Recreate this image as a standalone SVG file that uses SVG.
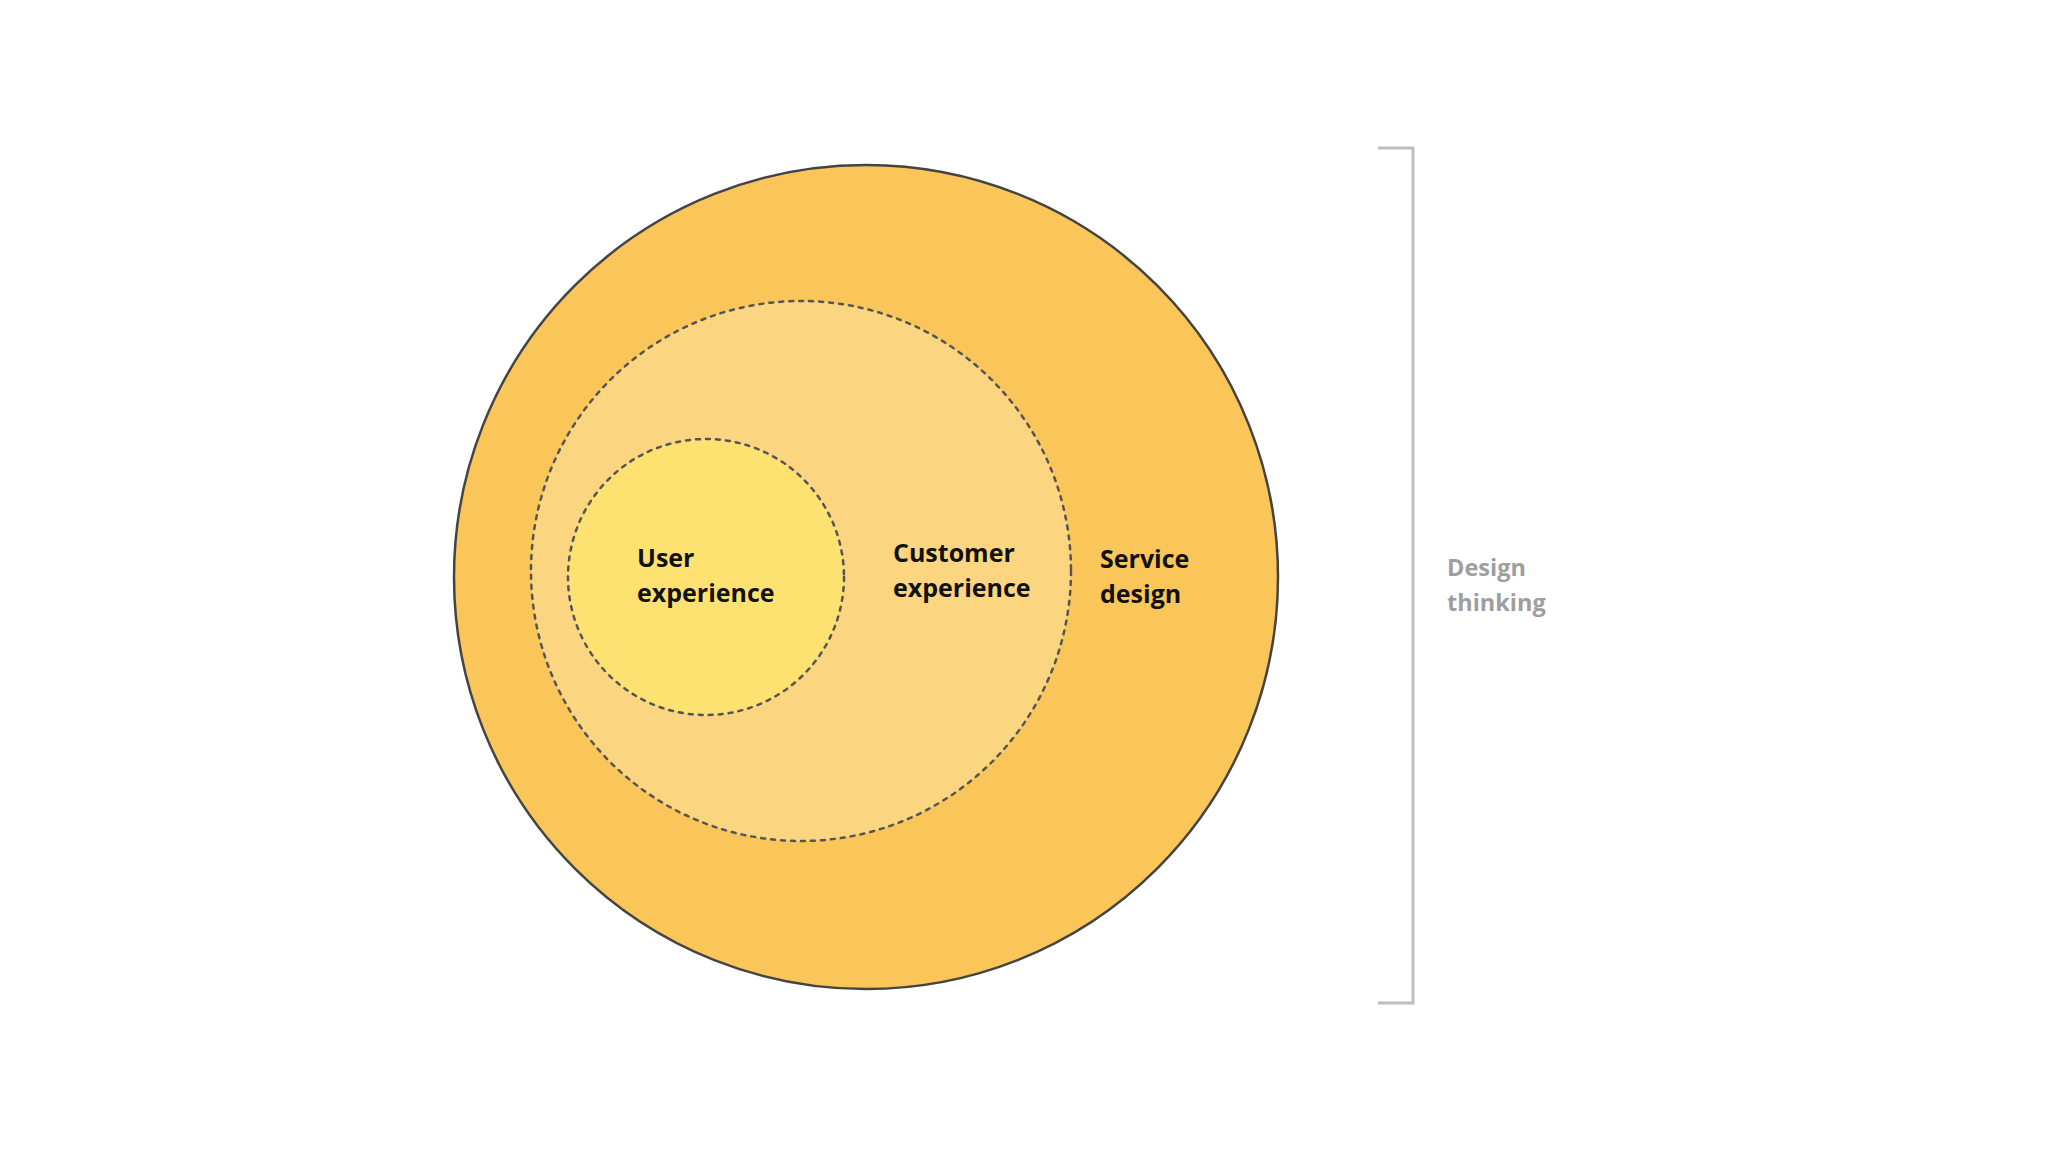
<svg xmlns="http://www.w3.org/2000/svg" width="2048" height="1152" viewBox="0 0 2048 1152">
<style>
.lbl{font-family:"Open Sans","DejaVu Sans",sans-serif;font-weight:700;font-size:25px;fill:#111}
.side{font-family:"Open Sans","DejaVu Sans",sans-serif;font-weight:700;font-size:23.5px;fill:#9e9e9e}
.dash{stroke:#555;stroke-width:2.5;stroke-dasharray:4 6;stroke-linecap:round}
</style>
<rect width="2048" height="1152" fill="#ffffff"/>
<g id="service-design">
<circle cx="866" cy="577" r="412" fill="#FBC659" stroke="#444" stroke-width="2.5"/>
<text class="lbl" x="1100" y="568">Service</text>
<text class="lbl" x="1100" y="603">design</text>
</g>
<g id="customer-experience">
<circle cx="801" cy="571" r="270" fill="#FCD580" class="dash"/>
<text class="lbl" x="893" y="562">Customer</text>
<text class="lbl" x="893" y="597">experience</text>
</g>
<g id="user-experience">
<circle cx="706" cy="577" r="138" fill="#FDE271" class="dash"/>
<text class="lbl" x="637" y="567">User</text>
<text class="lbl" x="637" y="602">experience</text>
</g>
<g id="design-thinking">
<polyline points="1378,148 1413,148 1413,1003 1378,1003" fill="none" stroke="#bdbdbd" stroke-width="3"/>
<text class="side" x="1447" y="576">Design</text>
<text class="side" x="1447" y="611">thinking</text>
</g>
</svg>
